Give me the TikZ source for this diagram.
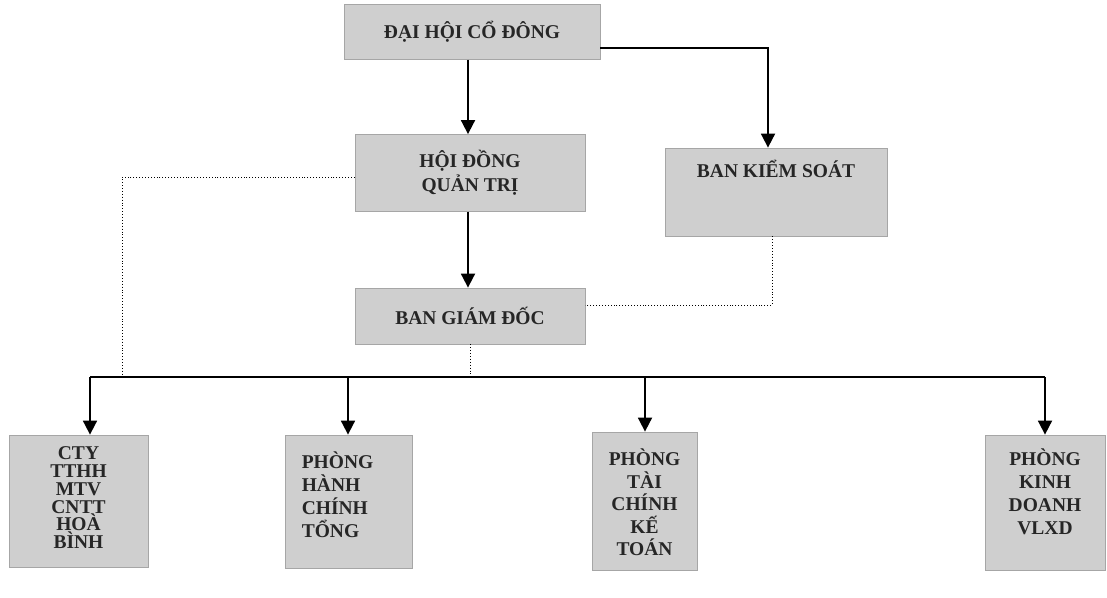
\documentclass[tikz,border=0pt]{standalone}
\usepackage{fontspec}
\setmainfont{Liberation Serif}
\usetikzlibrary{arrows.meta,positioning}
\begin{document}
\begin{tikzpicture}[x=1pt,y=-1pt,
  box/.style={draw=black!35,line width=0.8pt,fill=black!19,inner sep=0pt},
  lbl/.style={font=\fontsize{19.5}{22}\selectfont\bfseries,text=black!85,align=center,inner sep=0pt},
  arr/.style={line width=1.8pt,-{Triangle[width=14pt,length=14pt]}},
  bus/.style={line width=1.8pt},
  dot/.style={line width=0.9pt,dotted}]
\useasboundingbox (0,0) rectangle (1107,597);
% boxes
\node[box,minimum width=256pt,minimum height=55pt] (dh) at (472,32) {};
\node[lbl] (dhT) at (dh.center) {ĐẠI HỘI CỔ ĐÔNG};
\node[box,minimum width=230pt,minimum height=77pt] (hd) at (470,173) {};
\node[lbl] (hdT) at (hd.center) {HỘI ĐỒNG\\[2pt]QUẢN TRỊ};
\node[box,minimum width=222pt,minimum height=88pt] (bks) at (776,192) {};
\node[lbl,anchor=north] (bksT) at ([yshift=-12pt]bks.north) {BAN KIỂM SOÁT};
\node[box,minimum width=230pt,minimum height=56pt] (bgd) at (470,316) {};
\node[lbl] (bgdT) at (bgd.center) {BAN GIÁM ĐỐC};
\node[box,minimum width=139pt,minimum height=132pt] (c1) at (78.5,501) {};
\node[lbl,anchor=north,font=\fontsize{19.5}{17.8}\selectfont\bfseries] (c1T) at ([yshift=-12pt]c1.north) {CTY\\TTHH\\MTV\\CNTT\\HOÀ\\BÌNH};
\node[box,minimum width=127pt,minimum height=133pt] (c2) at (348.5,501.5) {};
\node[lbl,anchor=north west,align=left,font=\fontsize{19.5}{23}\selectfont\bfseries] (c2T) at ([xshift=17pt,yshift=-17pt]c2.north west) {PHÒNG\\HÀNH\\CHÍNH\\TỔNG};
\node[box,minimum width=105pt,minimum height=138pt] (c3) at (644.5,501) {};
\node[lbl,anchor=north,font=\fontsize{19.5}{22.5}\selectfont\bfseries] (c3T) at ([yshift=-17pt]c3.north) {PHÒNG\\TÀI\\CHÍNH\\KẾ\\TOÁN};
\node[box,minimum width=120pt,minimum height=135pt] (c4) at (1045,502.5) {};
\node[lbl,anchor=north,font=\fontsize{19.5}{23}\selectfont\bfseries] (c4T) at ([yshift=-14pt]c4.north) {PHÒNG\\KINH\\DOANH\\VLXD};
% bus coordinates
\coordinate (bL) at (90,377);
\coordinate (bR) at (1045,377);
\coordinate (dL) at (122,377);
% solid connectors
\draw[arr] ([xshift=-4pt]dh.south) -- ([xshift=-2pt]hd.north);
\draw[arr] (dh.east |- 0,48) -| ([xshift=-8pt]bks.north);
\draw[arr] ([xshift=-2pt]hd.south) -- ([xshift=-2pt]bgd.north);
\draw[bus] (bL) -- (bR);
\draw[arr] (bL) -- (bL |- c1.north);
\draw[arr] ([xshift=-0.5pt]c2.north |- bL) -- ([xshift=-0.5pt]c2.north);
\draw[arr] ([xshift=0.5pt]c3.north |- bL) -- ([xshift=0.5pt]c3.north);
\draw[arr] (bR) -- (c4.north);
% dotted connectors
\draw[dot] ([xshift=-4pt]bks.south) |- (bgd.east |- 0,305);
\draw[dot] (hd.west |- 0,177) -| (dL);
\draw[dot] (bgd.south) -- (bgd.south |- bL);
\end{tikzpicture}
\end{document}
